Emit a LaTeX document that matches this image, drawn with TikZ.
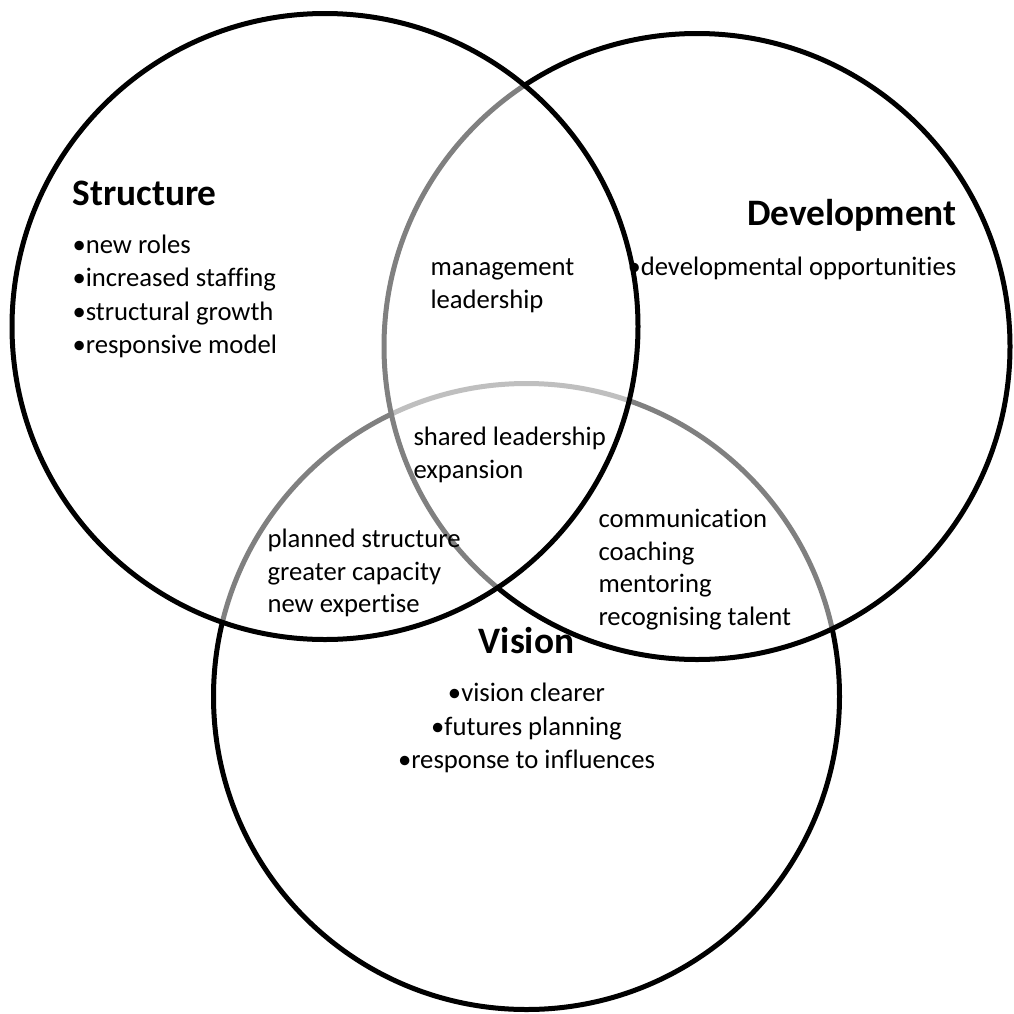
\documentclass[tikz,border=0pt]{standalone}
\usepackage{fontspec}
\setmainfont{Carlito}[Ligatures=NoCommon]
\begin{document}
\begin{tikzpicture}[x=0.375pt,y=-0.375pt,
  venn/.style={line width=1.875pt, draw=black, fill=white, fill opacity=0.5},
  body/.style={inner sep=0pt, font=\fontsize{10}{12}\selectfont},
  ttl/.style={inner sep=0pt, font=\fontsize{14}{16}\selectfont\bfseries},
  lt/.style={body, anchor=base west},
  ct/.style={body, anchor=base}]
\useasboundingbox (0,0) rectangle (1014,1014);
\fill[white] (0,0) rectangle (1014,1014);
\coordinate (c1) at (325,326.5);
\coordinate (c2) at (697,346.5);
\coordinate (c3) at (526.5,696.5);
% Vision circle (bottom layer)
\draw[venn] (c3) circle[radius=313];
% Development circle
\draw[venn] (c2) circle[radius=313];
\node[ttl, anchor=base east] (devt) at (957,225) {Development};
\node[lt] (dev1) at (627,275) {•developmental opportunities};
% Structure circle (top layer)
\draw[venn] (c1) circle[radius=313];
% Structure texts
\node[ttl, anchor=base west] (strt) at (72,205) {Structure};
\node[lt] (s1) at (72,253) {•new roles};
\node[lt] (s2) at (72,286.5) {•increased staffing};
\node[lt] (s3) at (72,320) {•structural growth};
\node[lt] (s4) at (72,353) {•responsive model};
% Structure & Development
\node[lt] (sd1) at (430,275) {management};
\node[lt] (sd2) at (430,308) {leadership};
% all three
\node[lt] (a1) at (413,445) {shared leadership};
\node[lt] (a2) at (413,478) {expansion};
% Structure & Vision
\node[lt] (sv1) at (267,547) {planned structure};
\node[lt] (sv2) at (267,580) {greater capacity};
\node[lt] (sv3) at (267,612) {new expertise};
% Development & Vision
\node[lt] (dv1) at (598,527) {communication};
\node[lt] (dv2) at (598,560) {coaching};
\node[lt] (dv3) at (598,592) {mentoring};
\node[lt] (dv4) at (598,625) {recognising talent};
% Vision
\node[ttl, anchor=base] (vist) at (526.5,653) {Vision};
\node[ct] (v1) at (526.5,701) {•vision clearer};
\node[ct] (v2) at (526.5,735) {•futures planning};
\node[ct] (v3) at (526.5,768) {•response to influences};
\end{tikzpicture}
\end{document}
